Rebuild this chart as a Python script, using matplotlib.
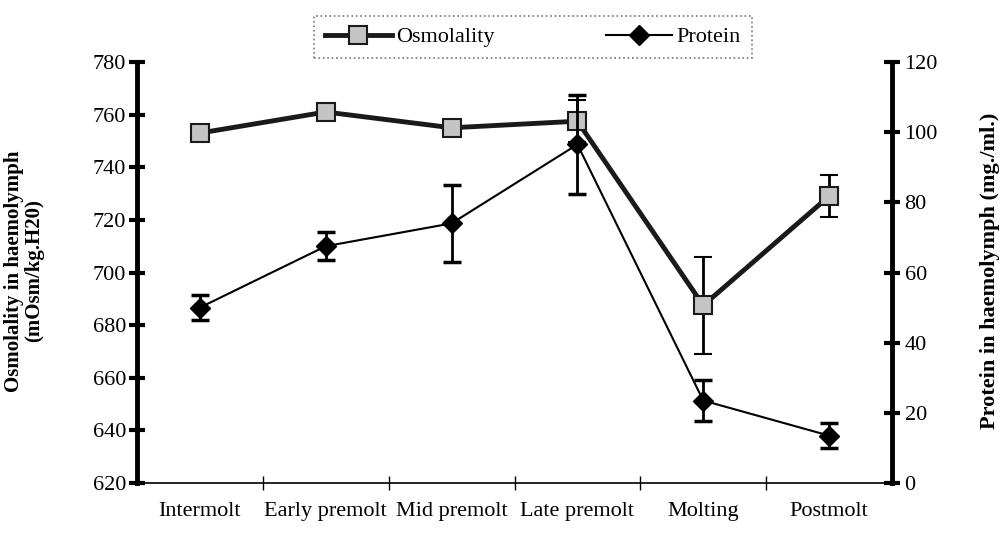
import numpy as np
import matplotlib.pyplot as plt
from matplotlib.lines import Line2D

plt.rcParams['font.family'] = ['Liberation Serif', 'DejaVu Serif']

# data
stages = ['Intermolt', 'Early premolt', 'Mid premolt', 'Late premolt', 'Molting', 'Postmolt']
osmolality = [753, 761, 755, 757.5, 687.5, 729]
osmolality_err = [0, 0, 0, 8, 18.5, 8]
protein = [50, 67.5, 74, 96.5, 23.5, 13.5]
protein_err = [3.5, 4, 11, 14, 5.8, 3.5]

x = np.arange(len(stages))

fig = plt.figure(figsize=(10.07, 5.42), dpi=100)
ax = fig.add_axes([137 / 1007, 1 - 483 / 542, (892 - 137) / 1007, (483 - 62) / 542])
ax2 = ax.twinx()

osm_style = dict(color='#1a1a1a', lw=3.5, marker='s', ms=13,
                 mfc='#c4c4c4', mec='#1a1a1a', mew=1.5)
prot_style = dict(color='black', lw=1.5, marker='D', ms=10, mfc='black', mec='black')

# Osmolality - thick line, grey squares
ax.errorbar(x, osmolality, yerr=osmolality_err, ecolor='black', elinewidth=2,
            capsize=6.5, capthick=2.5, zorder=3, **osm_style)

# Protein - thin line, black diamonds
ax2.errorbar(x, protein, yerr=protein_err, ecolor='black', elinewidth=2,
             capsize=6.5, capthick=2.5, zorder=3, **prot_style)

ax.set_xlim(-0.5, len(stages) - 0.5)
ax.set_ylim(620, 780)
ax.set_yticks(np.arange(620, 781, 20))
ax2.set_ylim(0, 120)
ax2.set_yticks(np.arange(0, 121, 20))

# category labels without tick marks, small ticks between categories
ax.set_xticks(x)
ax.set_xticklabels(stages, fontsize=16)
ax.tick_params(axis='x', which='major', length=0, pad=14)
ax.set_xticks(np.arange(0.5, len(stages) - 0.5, 1), minor=True)
ax.tick_params(axis='x', which='minor', direction='inout', length=10, width=1)

ax.tick_params(axis='y', direction='inout', length=12, width=3, labelsize=16, pad=2)
ax2.tick_params(axis='y', direction='inout', length=12, width=3, labelsize=16, pad=3)

for s in ['top', 'right']:
    ax.spines[s].set_visible(False)
for s in ['top', 'left', 'bottom']:
    ax2.spines[s].set_visible(False)
ax.spines['left'].set_linewidth(3.5)
ax2.spines['right'].set_linewidth(3.5)
ax.spines['bottom'].set_linewidth(1.2)

fig.text(0.024, 0.5, 'Osmolality in haemolymph\n(mOsm/kg.H20)', rotation=90,
         ha='center', va='center', fontsize=15, fontweight='bold', linespacing=1.0)
fig.text(0.983, 0.5, 'Protein in haemolymph (mg./ml.)', rotation=90,
         ha='center', va='center', fontsize=16, fontweight='bold')

handles = [Line2D([], [], **osm_style), Line2D([], [], **prot_style)]
leg = fig.legend(handles, ['Osmolality', 'Protein'], loc='center',
                 bbox_to_anchor=(533 / 1007, 1 - 37 / 542),
                 ncol=2, fontsize=16, frameon=True, fancybox=False, handlelength=3,
                 columnspacing=5, borderpad=0.5, handletextpad=0.2)
leg.get_frame().set_edgecolor('#555555')
leg.get_frame().set_linestyle(':')
leg.get_frame().set_linewidth(1.2)

fig.savefig('out.png', dpi=100)
